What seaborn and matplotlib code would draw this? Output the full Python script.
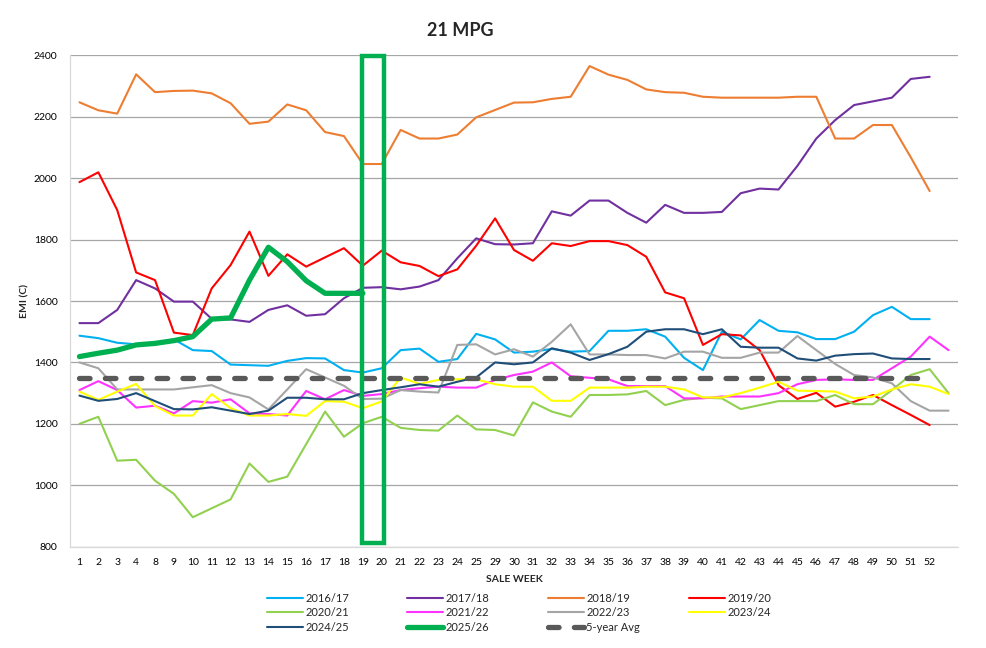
import numpy as np
import pandas as pd
import matplotlib
matplotlib.use("Agg")
import matplotlib.pyplot as plt
from matplotlib.patches import Rectangle
import seaborn as sns

# Sale weeks (last slot is an empty category, as in the source sheet)
WEEKS = ["1", "2", "3", "4", "8", "9", "10", "11", "12", "13", "14", "15", "16",
         "17", "18", "19", "20", "21", "22", "23", "24", "25", "29", "30", "31",
         "32", "33", "34", "35", "36", "37", "38", "39", "40", "41", "42", "43",
         "44", "45", "46", "47", "48", "49", "50", "51", "52", ""]

S_2016 = [1487, 1479, 1464, 1459, 1464, 1475, 1440, 1437, 1393, 1391, 1389, 1405, 1414,
          1413, 1375, 1367, 1381, 1440, 1445, 1402, 1411, 1493, 1475, 1432, 1435, 1444,
          1435, 1437, 1503, 1503, 1508, 1484, 1415, 1375, 1500, 1475, 1538, 1503, 1498,
          1476, 1476, 1500, 1554, 1581, 1541, 1541]
S_2017 = [1528, 1528, 1571, 1668, 1641, 1598, 1598, 1542, 1540, 1532, 1571, 1586, 1552,
          1557, 1609, 1643, 1645, 1638, 1647, 1668, 1739, 1804, 1785, 1784, 1788, 1892,
          1878, 1927, 1927, 1887, 1855, 1913, 1887, 1887, 1890, 1951, 1966, 1963, 2040,
          2129, 2189, 2238, 2250, 2262, 2323, 2330]
S_2018 = [2247, 2221, 2210, 2338, 2280, 2284, 2285, 2276, 2244, 2177, 2184, 2240, 2221,
          2150, 2137, 2046, 2046, 2157, 2129, 2129, 2142, 2198, 2222, 2246, 2247, 2258,
          2265, 2365, 2337, 2320, 2289, 2280, 2278, 2265, 2262, 2262, 2262, 2262, 2265,
          2265, 2129, 2129, 2173, 2173, 2068, 1958]
S_2019 = [1987, 2019, 1896, 1693, 1668, 1497, 1489, 1641, 1717, 1826, 1682, 1752, 1712,
          1742, 1772, 1715, 1764, 1726, 1714, 1681, 1703, 1780, 1869, 1766, 1731, 1788,
          1779, 1795, 1795, 1782, 1744, 1628, 1609, 1457, 1492, 1488, 1440, 1326, 1281,
          1301, 1256, 1272, 1294, 1261, 1229, 1196]
S_2020 = [1200, 1223, 1080, 1083, 1015, 972, 896, 925, 954, 1071, 1011, 1028, 1134,
          1240, 1158, 1202, 1223, 1187, 1180, 1178, 1227, 1182, 1180, 1162, 1270, 1240,
          1223, 1294, 1294, 1296, 1307, 1261, 1278, 1285, 1283, 1248, 1261, 1274, 1274,
          1274, 1294, 1264, 1264, 1310, 1359, 1378, 1300]
S_2021 = [1310, 1339, 1310, 1253, 1259, 1234, 1274, 1269, 1280, 1234, 1232, 1227, 1307,
          1280, 1310, 1291, 1297, 1310, 1316, 1321, 1318, 1318, 1343, 1359, 1370, 1400,
          1355, 1350, 1345, 1323, 1323, 1323, 1283, 1283, 1289, 1289, 1289, 1300, 1329,
          1343, 1345, 1343, 1343, 1381, 1419, 1484, 1440]
S_2022 = [1400, 1381, 1312, 1312, 1312, 1312, 1319, 1326, 1300, 1286, 1247, 1312, 1378,
          1351, 1324, 1281, 1282, 1310, 1305, 1302, 1457, 1459, 1426, 1443, 1419, 1467,
          1524, 1426, 1426, 1424, 1424, 1413, 1435, 1435, 1415, 1415, 1432, 1432, 1486,
          1440, 1395, 1359, 1351, 1332, 1274, 1243, 1243]
S_2023 = [1305, 1278, 1305, 1330, 1258, 1227, 1227, 1297, 1251, 1227, 1227, 1232, 1226,
          1274, 1272, 1251, 1273, 1351, 1330, 1343, 1345, 1345, 1329, 1321, 1321, 1275,
          1275, 1318, 1318, 1318, 1321, 1321, 1312, 1286, 1286, 1300, 1318, 1337, 1308,
          1307, 1305, 1283, 1289, 1312, 1329, 1321, 1297]
S_2024 = [1292, 1275, 1281, 1300, 1274, 1248, 1247, 1254, 1243, 1232, 1243, 1285, 1285,
          1280, 1280, 1300, 1310, 1319, 1329, 1321, 1337, 1351, 1400, 1394, 1400, 1446,
          1432, 1408, 1427, 1451, 1500, 1508, 1508, 1492, 1508, 1451, 1448, 1448, 1413,
          1406, 1422, 1427, 1429, 1413, 1411, 1411]
S_2025 = [1419, 1430, 1440, 1457, 1462, 1471, 1484, 1541, 1545, 1668, 1775, 1728, 1666,
          1625, 1625, 1625]
AVG_5Y = [1350, 1350, 1350, 1350, 1350, 1350, 1350, 1350, 1350, 1350, 1350, 1350, 1350,
          1350, 1350, 1350, 1350, 1350, 1350, 1350, 1350, 1350, 1350, 1350, 1350, 1350,
          1350, 1350, 1350, 1350, 1350, 1350, 1350, 1350, 1350, 1350, 1350, 1350, 1350,
          1350, 1350, 1350, 1350, 1350, 1350, 1350]

SEASONS = ["2016/17", "2017/18", "2018/19", "2019/20", "2020/21", "2021/22",
           "2022/23", "2023/24", "2024/25", "2025/26", "5-year Avg"]
SERIES = [S_2016, S_2017, S_2018, S_2019, S_2020, S_2021, S_2022, S_2023, S_2024,
          S_2025, AVG_5Y]
COLORS = ["#00B0F0", "#7030A0", "#ED7D31", "#FF0000", "#92D050", "#FF33FF",
          "#A5A5A5", "#FFFF00", "#1F4E79", "#00B050", "#595959"]

HIGHLIGHT_WEEKS = ["19", "20"]
Y_TICKS = [800, 1000, 1200, 1400, 1600, 1800, 2000, 2200, 2400]

# legend column left edges (px) - Excel spaces them evenly
LEGEND_COLS_PX = [267, 407, 548, 689]


def plot_chart():
    fig = plt.figure(figsize=(9.87, 6.48), dpi=100)
    ax = fig.add_axes([70 / 987, 1 - 546.7 / 648, 888 / 987, 491.4 / 648])

    x_pos = np.arange(len(WEEKS))
    for name, vals, color in zip(SEASONS, SERIES, COLORS):
        df = pd.DataFrame({"week": x_pos[:len(vals)], "emi": vals})
        kws = dict(color=color, linewidth=1.5, label=name, ax=ax)
        if name == "2025/26":
            kws.update(linewidth=3.8, solid_capstyle="round")
        if name == "5-year Avg":
            kws.update(linewidth=3.8, linestyle=(0, (2.0, 2.9)),
                       dash_capstyle="round")
        sns.lineplot(data=df, x="week", y="emi", **kws)

    # highlight box round weeks 19-20
    i0 = WEEKS.index(HIGHLIGHT_WEEKS[0])
    i1 = WEEKS.index(HIGHLIGHT_WEEKS[1])
    ax.add_patch(Rectangle((i0 - 0.05, 812), (i1 - i0) + 0.17, 1585,
                           fill=False, edgecolor="#00B050", linewidth=3.2,
                           zorder=10, clip_on=False))

    ax.set_xlim(-0.5, len(WEEKS) - 0.5)
    ax.set_ylim(800, 2400)
    ax.set_xticks(x_pos)
    ax.set_xticklabels(WEEKS)
    ax.set_yticks(Y_TICKS)
    ax.tick_params(axis="both", length=0, labelsize=7.5, colors="#000000")
    ax.tick_params(axis="y", pad=9)
    ax.tick_params(axis="x", pad=8)

    ax.grid(axis="y", color="#A6A6A6", linewidth=0.9)
    ax.grid(axis="x", visible=False)
    ax.set_axisbelow(True)
    for side in ["top", "right"]:
        ax.spines[side].set_visible(False)
    for side in ["left", "bottom"]:
        ax.spines[side].set_color("#D9D9D9")
        ax.spines[side].set_linewidth(0.9)

    ax.set_xlabel("SALE WEEK", fontsize=7.5, fontweight="bold")
    ax.xaxis.set_label_coords(0.5, -0.058)
    ax.set_ylabel("EMI (C)", fontsize=7.5, fontweight="bold", va="center")
    ax.yaxis.set_label_coords(-0.0507, 0.5)

    fig.text(460 / 987, 1 - 30 / 648, "21 MPG", ha="center", va="center",
             fontsize=13, fontweight="bold")

    # Excel fills the legend row by row: one legend per column
    handles, labels = ax.get_legend_handles_labels()
    ax.get_legend().remove()
    for c, x_px in enumerate(LEGEND_COLS_PX):
        idx = list(range(c, len(labels), 4))
        fig.legend([handles[i] for i in idx], [labels[i] for i in idx],
                   loc="upper left", bbox_to_anchor=(x_px / 987, 1 - 593 / 648),
                   frameon=False, fontsize=8, handlelength=3.2,
                   handletextpad=0.25, labelspacing=0.3, borderpad=0,
                   borderaxespad=0)

    fig.savefig("out.png", dpi=100)
    plt.close(fig)


def main():
    sns.set_style("white")
    plt.rcParams["font.family"] = ["Lato", "DejaVu Sans"]
    plot_chart()


if __name__ == "__main__":
    main()
